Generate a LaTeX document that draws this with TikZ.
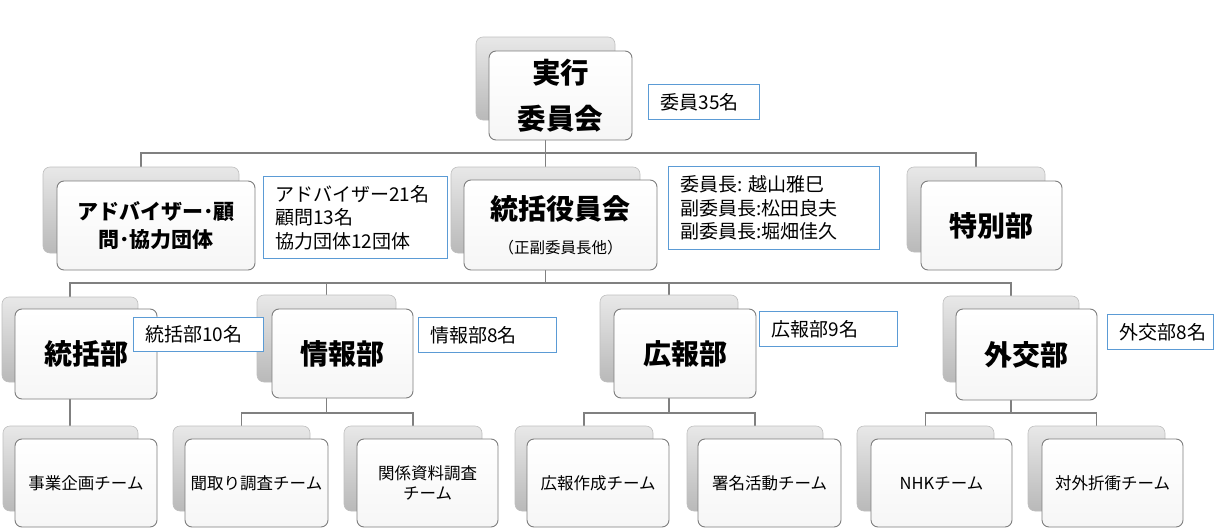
\documentclass[tikz,border=0pt]{standalone}
\usepackage{fontspec}
\setmainfont{Noto Sans CJK JP}
\usetikzlibrary{backgrounds}
\definecolor{lblblue}{RGB}{91,155,213}
\definecolor{conncol}{RGB}{128,128,128}
\definecolor{framecol}{RGB}{125,125,125}
\tikzset{
  span/.style args={(#1,#2)(#3,#4)}{minimum width=#3-#1, minimum height=#4-#2, at={({(#1+#3)/2},{(#2+#4)/2})}},
  backbox/.style={inner sep=0pt, rounded corners=7pt, top color=gray!18, bottom color=gray!55, draw=gray!50, line width=0.6pt},
  frontbox/.style={inner sep=0pt, rounded corners=7pt, top color=white, bottom color=gray!7, draw=framecol, line width=0.9pt, align=center, text=black},
  lbl/.style={draw=lblblue, line width=0.9pt, fill=white, align=left, inner xsep=12pt, inner ysep=0pt, anchor=north west, font=\fontsize{19}{23.5}\selectfont},
  conn/.style={draw=conncol, line width=1.5pt},
  big/.style={font=\fontsize{28}{30}\selectfont\bfseries},
  team/.style={font=\fontsize{16.5}{20}\selectfont},
}
\newcommand\mkunit[5]{%
  \node[backbox, span={#2}] (#1-b) {};
  \node[frontbox, span={#3}, #4] (#1) {#5};}
\newcommand\mklabel[6]{%
  \node[lbl, minimum width=#4pt, minimum height=#5pt] (#1) at (#2,#3) {\makebox[\dimexpr#4pt-24pt\relax][l]{#6}};}
\begin{document}
\begin{tikzpicture}[x=1pt,y=-1pt]
\useasboundingbox (0,0) rectangle (1216,530);
% level 1
\mkunit{exec}{(476,37)(615,120)}{(489,51)(632,140)}{font=\fontsize{28.5}{46}\selectfont\bfseries}{実行\\委員会}
% level 2
\mkunit{adv}{(43,167)(239,253)}{(57,181)(255,270)}{font=\fontsize{21}{28}\selectfont\bfseries}{アドバイザー･顧\\問･協力団体}
\mkunit{gov}{(451,167)(640,253)}{(464,180)(657,270)}{font=\fontsize{15.5}{18}\selectfont}{{\fontsize{28}{30}\selectfont\bfseries 統括役員会}\\[16pt]（正副委員長他）}
\mkunit{sp}{(907,167)(1045,252)}{(921,181)(1062,270)}{big}{特別部}
% level 3
\mkunit{tb}{(2,297)(138,382)}{(15,309)(157,399)}{big}{統括部}
\mkunit{jb}{(257,295)(396,382)}{(272,309)(413,398)}{big}{情報部}
\mkunit{kb}{(600,295)(738,382)}{(614,309)(756,398)}{big}{広報部}
\mkunit{gb}{(943,296)(1079,382)}{(956,309)(1097,400)}{big}{外交部}
% level 4
\mkunit{t1}{(3,426)(138,511)}{(15,439)(157,527)}{team}{事業企画チーム}
\mkunit{t2}{(173,426)(310,511)}{(185,439)(328,527)}{team}{聞取り調査チーム}
\mkunit{t3}{(344,426)(482,511)}{(357,439)(498,527)}{team}{関係資料調査\\チーム}
\mkunit{t4}{(515,426)(653,511)}{(527,439)(669,527)}{team}{広報作成チーム}
\mkunit{t5}{(687,426)(823,511)}{(698,439)(841,527)}{team}{署名活動チーム}
\mkunit{t6}{(857,426)(994,511)}{(871,439)(1012,527)}{team}{NHKチーム}
\mkunit{t7}{(1028,426)(1165,511)}{(1042,439)(1183,527)}{team}{対外折衝チーム}
% labels
\mklabel{l-exec}{648}{84}{111}{35}{委員35名}
\mklabel{l-adv}{263}{176}{184}{82}{\parbox[c]{160pt}{アドバイザー21名\\顧問13名\\協力団体12団体}}
\mklabel{l-gov}{668}{166}{211}{83}{\parbox[c]{187pt}{委員長: 越山雅巳\\副委員長:松田良夫\\副委員長:堀畑佳久}}
\mklabel{l-tb}{133}{317}{130}{34}{統括部10名}
\mklabel{l-jb}{418}{317}{138}{35}{情報部8名}
\mklabel{l-kb}{759}{311}{138}{35}{広報部9名}
\mklabel{l-gb}{1107}{314}{106}{35}{外交部8名}
% connectors
\coordinate (bus1) at (0,153);
\coordinate (bus2) at (0,283);
\coordinate (bus3) at (0,413);
\begin{pgfonlayer}{background}
\draw[conn] (exec-b.center) -- (exec-b.center |- bus1) -| (adv-b.center);
\draw[conn] (exec-b.center |- bus1) -| (gov-b.center);
\draw[conn] (exec-b.center |- bus1) -| (sp-b.center);
\draw[conn] (gov-b.center) -- (gov-b.center |- bus2) -| (tb-b.center);
\draw[conn] (gov-b.center |- bus2) -| (jb-b.center);
\draw[conn] (gov-b.center |- bus2) -| (kb-b.center);
\draw[conn] (gov-b.center |- bus2) -| (gb-b.center);
\draw[conn] (tb-b.center) -- (tb-b.center |- t1-b.center);
\draw[conn] (jb-b.center) -- (jb-b.center |- bus3) -| (t2-b.center);
\draw[conn] (jb-b.center |- bus3) -| (t3-b.center);
\draw[conn] (kb-b.center) -- (kb-b.center |- bus3) -| (t4-b.center);
\draw[conn] (kb-b.center |- bus3) -| (t5-b.center);
\draw[conn] (gb-b.center) -- (gb-b.center |- bus3) -| (t6-b.center);
\draw[conn] (gb-b.center |- bus3) -| (t7-b.center);
\end{pgfonlayer}
\end{tikzpicture}
\end{document}
